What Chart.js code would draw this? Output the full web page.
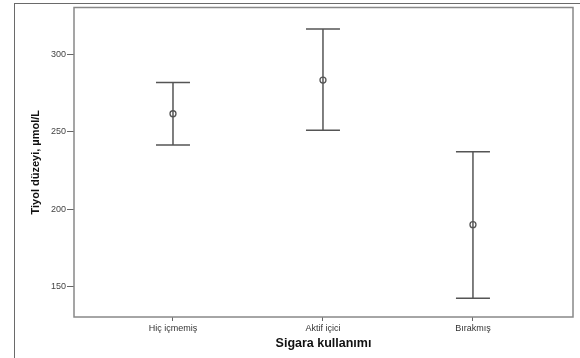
<!DOCTYPE html>
<html>
<head>
<meta charset="utf-8">
<script src="https://cdn.jsdelivr.net/npm/chart.js@4/dist/chart.umd.min.js"></script>
<style>
    body { margin: 0; background: #fff; }
    #wrap { position: relative; width: 580px; height: 358px; overflow: hidden; }
    #frame { position: absolute; left: 14px; top: 3px; width: 600px; height: 400px;
             border-left: 1.5px solid #6a6a6a; border-top: 1.5px solid #6a6a6a; }
    #chart { position: absolute; left: 0; top: 0; }
</style>
</head>
<body>
<div id="wrap">
    <div id="frame"></div>
    <canvas id="chart" width="580" height="358"></canvas>
</div>
<script>
// Tiyol düzeyi - ortalama ve güven aralığı (hata çubukları)
const categories = ['Hiç içmemiş', 'Aktif içici', 'Bırakmış'];
const means = [261.5, 283.2, 190];
const lowerCI = [241.4, 250.9, 142.6];
const upperCI = [281.7, 316.1, 237];
const yTicks = [150, 200, 250, 300];

const lineColor = '#555555';

// bir dataset her kategori için: alt ve üst uçlar, pointStyle 'line' ile kapaklar
const whiskerSets = categories.map(function(cat, i) {
    return {
        type: 'line',
        data: [{ x: i, y: lowerCI[i] }, { x: i, y: upperCI[i] }],
        borderColor: lineColor,
        borderWidth: 1.5,
        pointStyle: 'line',
        pointRadius: 17,
        pointBorderColor: lineColor,
        pointBorderWidth: 1.5,
        fill: false
    };
});

const meanSet = {
    type: 'scatter',
    data: means.map(function(m, i) { return { x: i, y: m }; }),
    pointStyle: 'circle',
    pointRadius: 3,
    pointBackgroundColor: '#ffffff',
    pointBorderColor: lineColor,
    pointBorderWidth: 1.3
};

const plotBorder = {
    id: 'plotBorder',
    afterDraw: function(chart) {
        const a = chart.chartArea;
        const ctx = chart.ctx;
        ctx.save();
        ctx.strokeStyle = '#888888';
        ctx.lineWidth = 1.5;
        ctx.strokeRect(a.left, a.top, a.right - a.left, a.bottom - a.top);
        ctx.restore();
    }
};

new Chart(document.getElementById('chart'), {
    data: { datasets: whiskerSets.concat([meanSet]) },
    options: {
        responsive: false,
        animation: false,
        layout: { autoPadding: false, padding: { top: 7.5, right: 7, left: 0, bottom: 0 } },
        plugins: { legend: { display: false }, tooltip: { enabled: false } },
        scales: {
            x: {
                type: 'linear',
                min: -0.66,
                max: 2.667,
                afterBuildTicks: function(scale) {
                    scale.ticks = categories.map(function(c, i) { return { value: i }; });
                },
                afterFit: function(scale) { scale.height = 41; },
                border: { display: false },
                grid: { drawOnChartArea: false, tickLength: 4, color: '#666666', lineWidth: 1 },
                ticks: {
                    padding: 2,
                    color: '#333333',
                    font: { family: 'Liberation Sans, Arial, sans-serif', size: 9 },
                    callback: function(v) { return categories[v]; }
                },
                title: {
                    display: true,
                    text: 'Sigara kullanımı',
                    color: '#111111',
                    font: { family: 'Liberation Sans, Arial, sans-serif', size: 12.5, weight: 'bold' },
                    padding: { top: 0, bottom: 7 }
                }
            },
            y: {
                type: 'linear',
                min: 130.5,
                max: 330,
                afterBuildTicks: function(scale) {
                    scale.ticks = yTicks.map(function(v) { return { value: v }; });
                },
                afterFit: function(scale) { scale.width = 74; },
                border: { display: false },
                grid: { drawOnChartArea: false, tickLength: 7, color: '#666666', lineWidth: 1 },
                ticks: {
                    padding: 1,
                    color: '#444444',
                    font: { family: 'Liberation Sans, Arial, sans-serif', size: 9 }
                },
                title: {
                    display: true,
                    text: 'Tiyol düzeyi, µmol/L',
                    color: '#111111',
                    font: { family: 'Liberation Sans Narrow, Liberation Sans, Arial, sans-serif', size: 11, weight: 'bold' },
                    padding: { top: 29, bottom: 0 }
                }
            }
        }
    },
    plugins: [plotBorder]
});
</script>
</body>
</html>
